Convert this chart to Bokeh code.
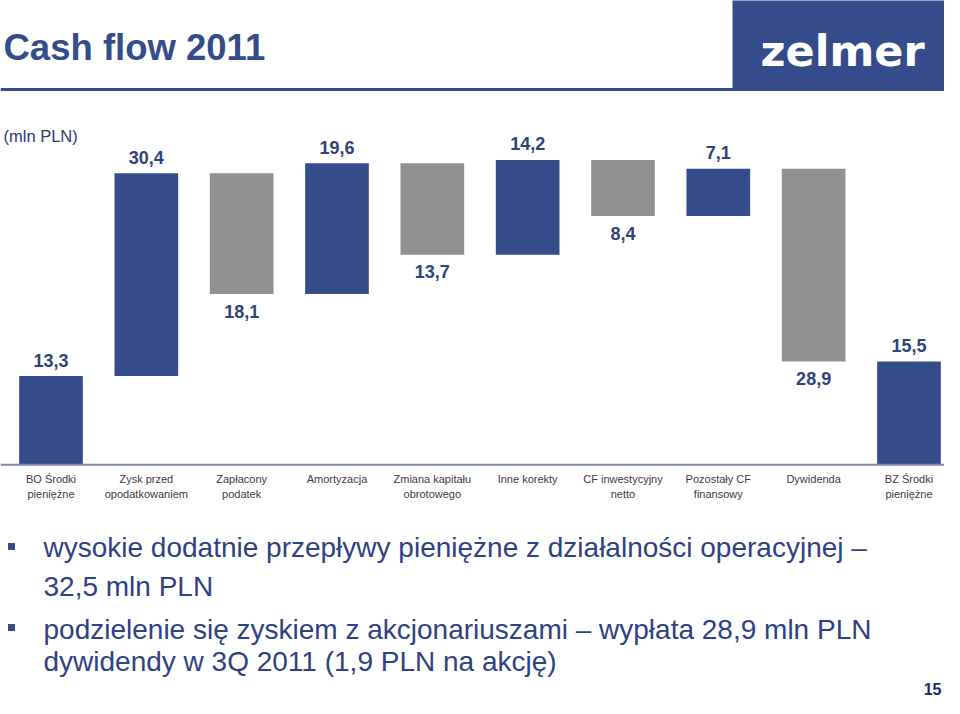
from bokeh.plotting import figure
from bokeh.models import Range1d, Label, Span, ColumnDataSource
from bokeh.core.properties import value
from bokeh.embed import file_html
from bokeh.resources import INLINE

# ---- data ----
categories = ["BO Środki\npieniężne", "Zysk przed\nopodatkowaniem", "Zapłacony\npodatek",
              "Amortyzacja", "Zmiana kapitału\nobrotowego", "Inne korekty",
              "CF inwestycyjny\nnetto", "Pozostały CF\nfinansowy", "Dywidenda",
              "BZ Środki\npieniężne"]
values = [13.3, 30.4, -18.1, 19.6, -13.7, 14.2, -8.4, 7.1, -28.9, 15.5]
is_total = [True, False, False, False, False, False, False, False, False, True]

title_text = "Cash flow 2011"
unit_text = "(mln PLN)"
bullet_lines = [
    "wysokie dodatnie przepływy pieniężne z działalności operacyjnej –",
    "32,5 mln PLN",
    "podzielenie się zyskiem z akcjonariuszami – wypłata 28,9 mln PLN",
    "dywidendy w 3Q 2011 (1,9 PLN na akcję)",
]
page_no = "15"

# ---- styles ----
BLUE = "#354C8B"
GRAY = "#919191"
VAL_COLOR = "#2F4379"
CAT_COLOR = "#3C3C3C"
TXT_BLUE = "#2F4182"
FONT = "Liberation Sans"

# ---- waterfall geometry from data ----
xs_idx, bottoms, tops, colors = [], [], [], []
running = 0.0
for i, (v, t) in enumerate(zip(values, is_total)):
    if t:
        b, tp = 0.0, v
        running = v
    else:
        start = running
        running = running + v
        b, tp = min(start, running), max(start, running)
    xs_idx.append(i)
    bottoms.append(b)
    tops.append(tp)
    colors.append(BLUE if (t or v > 0) else GRAY)

labels = [f"{abs(v):.1f}".replace(".", ",") for v in values]
up = [t or v > 0 for v, t in zip(values, is_total)]

bar_src = ColumnDataSource(dict(x=xs_idx, bottom=bottoms, top=tops, color=colors))
up_src = ColumnDataSource(dict(x=[x for x, u in zip(xs_idx, up) if u],
                               y=[tp for tp, u in zip(tops, up) if u],
                               t=[l for l, u in zip(labels, up) if u]))
dn_src = ColumnDataSource(dict(x=[x for x, u in zip(xs_idx, up) if not u],
                               y=[b for b, u in zip(bottoms, up) if not u],
                               t=[l for l, u in zip(labels, up) if not u]))

W, H = 944, 698
p = figure(width=W, height=H, x_range=Range1d(0, W), y_range=Range1d(H, 0),
           output_backend="svg", toolbar_location=None,
           x_axis_type=None, y_axis_type=None, min_border=0,
           outline_line_color=None, background_fill_color="white",
           border_fill_color="white")

# category / value scales for the chart part
spacing = 95.33
xs = -50.5 / spacing
xe = xs + W / spacing
ppu = 6.67
ye = 464.3 / ppu
ys = ye - H / ppu
p.extra_x_ranges = {"cat": Range1d(xs, xe)}
p.extra_y_ranges = {"val": Range1d(ys, ye)}

# header
p.quad(left=732, right=960, top=-5, bottom=89, fill_color=BLUE, line_color=None)
p.add_layout(Span(location=89, dimension="width", line_color=BLUE, line_width=3))
p.add_layout(Label(x=3, y=47, text=title_text, text_font=FONT, text_font_style="bold",
                   text_font_size="36.5px", text_color=BLUE, text_baseline="middle"))
p.add_layout(Label(x=760, y=50, text="zelmer", text_font="DejaVu Sans", text_font_style="bold",
                   text_font_size="43px", text_color="white", text_baseline="middle"))
p.add_layout(Label(x=3, y=135, text=unit_text, text_font=FONT,
                   text_font_size="16.5px", text_color="#2B3A72", text_baseline="middle"))

# bars
p.vbar(x="x", width=0.668, bottom="bottom", top="top", fill_color="color", line_color=None,
       source=bar_src, x_range_name="cat", y_range_name="val")
p.add_layout(Span(location=0, dimension="width", y_range_name="val",
                  line_color="#7D89A6", line_width=2))

p.text(x="x", y="y", text="t", source=up_src, x_range_name="cat", y_range_name="val",
       text_font=value(FONT), text_font_style="bold", text_font_size="18px",
       text_color=VAL_COLOR, text_align="center", text_baseline="middle", y_offset=-16)
p.text(x="x", y="y", text="t", source=dn_src, x_range_name="cat", y_range_name="val",
       text_font=value(FONT), text_font_style="bold", text_font_size="18px",
       text_color=VAL_COLOR, text_align="center", text_baseline="middle", y_offset=17)

# category labels (two rows)
line1 = [c.split("\n")[0] for c in categories]
line2 = [c.split("\n")[1] if "\n" in c else "" for c in categories]
p.text(x=xs_idx, y=[478.3] * len(xs_idx), text=line1, x_range_name="cat",
       text_font=value(FONT), text_font_size="11px", text_color=CAT_COLOR,
       text_align="center", text_baseline="middle")
p.text(x=xs_idx, y=[493.3] * len(xs_idx), text=line2, x_range_name="cat",
       text_font=value(FONT), text_font_size="11px", text_color=CAT_COLOR,
       text_align="center", text_baseline="middle")

# bullets
p.scatter(x=[11, 11], y=[546, 627], marker="square", size=7, fill_color=BLUE, line_color=None)
for txt, by in zip(bullet_lines, [547, 586, 629, 661]):
    p.add_layout(Label(x=43, y=by, text=txt, text_font=FONT, text_font_size="28px",
                       text_color=TXT_BLUE, text_baseline="middle"))

p.add_layout(Label(x=941, y=688, text=page_no, text_font=FONT, text_font_style="bold",
                   text_font_size="16px", text_color="#1F2B5A", text_align="right",
                   text_baseline="middle"))

open("out.html", "w").write(file_html(p, INLINE))
